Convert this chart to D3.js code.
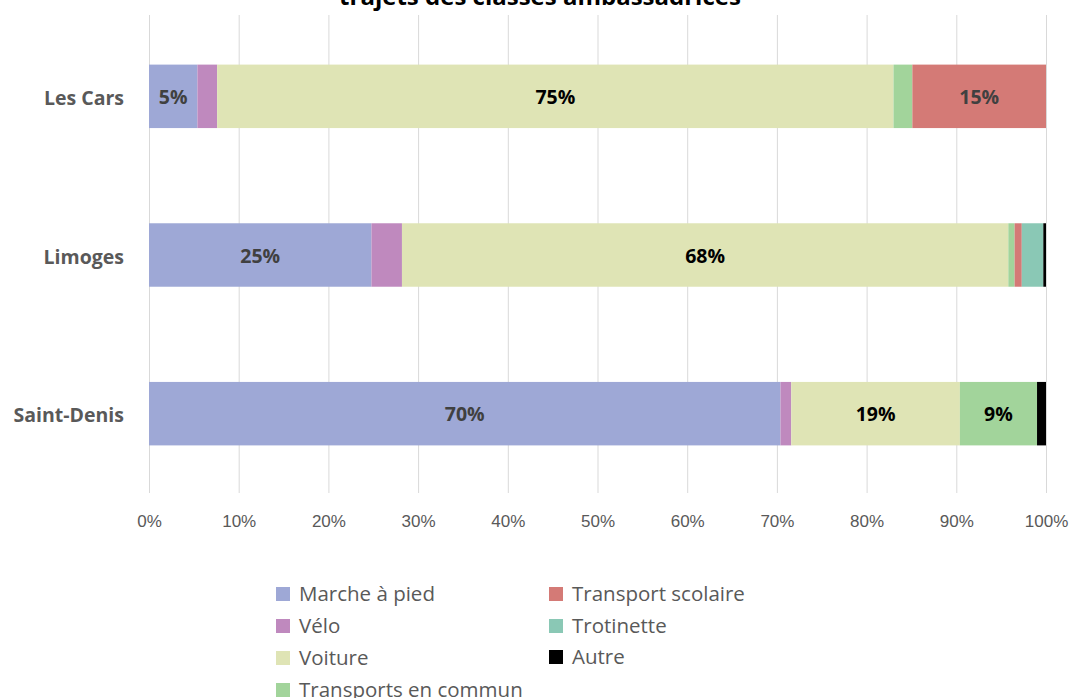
<!DOCTYPE html>
<html>
<head>
<meta charset="utf-8">
<script src="https://cdn.jsdelivr.net/npm/d3@7"></script>
<style>
  body { margin: 0; background: #fff; }
  svg { display: block; font-family: "Open Sans", "Noto Sans", sans-serif; }
</style>
</head>
<body>
<svg id="chart" width="1072" height="698"></svg>
<script>
const categories = ["Les Cars", "Limoges", "Saint-Denis"];
const modes = ["Marche à pied", "Vélo", "Voiture", "Transports en commun", "Transport scolaire", "Trotinette", "Autre"];
const colors = ["#9ea8d6", "#bf89be", "#dfe4b5", "#a2d49b", "#d47a76", "#8ac8b5", "#000000"];
const labelColors = ["#404040", "#404040", "#000000", "#000000", "#404040", "#404040", "#ffffff"];

// share (%) of each mode per city, in the order of `modes`
const lesCars    = [5.4, 2.2, 75.4, 2.1, 14.9, 0, 0];
const limoges    = [24.8, 3.4, 67.6, 0.7, 0.8, 2.4, 0.3];
const saintDenis = [70.4, 1.2, 18.8, 8.6, 0, 0, 1.0];
const values = [lesCars, limoges, saintDenis];

const xTicks = [0, 10, 20, 30, 40, 50, 60, 70, 80, 90, 100];
const titleText = "trajets des classes ambassadrices";

const rows = categories.map((c, i) => {
    const row = { city: c };
    modes.forEach((m, j) => row[m] = values[i][j]);
    return row;
});

const svg = d3.select("#chart");
const margin = { left: 149, right: 26, top: 15, bottom: 205 };
const width = +svg.attr("width"), height = +svg.attr("height");

const x = d3.scaleLinear().domain([0, 100]).range([margin.left, width - margin.right]);
const y = d3.scaleBand().domain(categories).range([margin.top + 2, height - margin.bottom]).paddingInner(0.6).paddingOuter(0.3);
const color = d3.scaleOrdinal().domain(modes).range(colors);

// vertical gridlines
svg.append("g")
    .selectAll("line")
    .data(xTicks)
    .join("line")
    .attr("x1", d => x(d) + 0.5).attr("x2", d => x(d) + 0.5)
    .attr("y1", margin.top).attr("y2", height - margin.bottom)
    .attr("stroke", "#d9d9d9").attr("stroke-width", 1);

// x axis labels
const xAxis = svg.append("g")
    .attr("transform", `translate(0,${height - margin.bottom})`)
    .call(d3.axisBottom(x).tickValues(xTicks).tickFormat(d => d + "%").tickSize(0).tickPadding(22));
xAxis.select(".domain").remove();
xAxis.selectAll("text").attr("fill", "#595959").attr("font-size", 17);

// city labels
svg.append("g")
    .selectAll("text")
    .data(categories)
    .join("text")
    .attr("x", 124)
    .attr("y", d => y(d) + y.bandwidth() / 2 + 2)
    .attr("dy", "0.35em")
    .attr("text-anchor", "end")
    .attr("font-weight", "bold")
    .attr("font-size", 19.5)
    .attr("fill", "#595959")
    .text(d => d);

// stacked bars
const stacked = d3.stack().keys(modes)(rows);
const layers = svg.append("g")
    .selectAll("g")
    .data(stacked)
    .join("g")
    .attr("fill", d => color(d.key));

layers.selectAll("rect")
    .data(d => d)
    .join("rect")
    .attr("x", d => x(d[0]))
    .attr("y", d => y(d.data.city))
    .attr("width", d => x(d[1]) - x(d[0]))
    .attr("height", y.bandwidth());

// value labels on the wider segments
stacked.forEach((layer, j) => {
    svg.append("g")
        .selectAll("text")
        .data(layer.filter(d => d[1] - d[0] >= 5))
        .join("text")
        .attr("x", d => (x(d[0]) + x(d[1])) / 2)
        .attr("y", d => y(d.data.city) + y.bandwidth() / 2 + 1)
        .attr("dy", "0.35em")
        .attr("text-anchor", "middle")
        .attr("font-weight", "bold")
        .attr("font-size", 19.5)
        .attr("fill", labelColors[j])
        .text(d => Math.round(d[1] - d[0]) + "%");
});

// title, partly above the top edge
svg.append("text")
    .attr("x", 540)
    .attr("y", 5)
    .attr("text-anchor", "middle")
    .attr("font-weight", "bold")
    .attr("font-size", 24)
    .attr("fill", "#000")
    .text(titleText);

// legend in two columns
const legendPos = [
    [276, 594], [276, 626], [276, 658], [276, 690],
    [549, 594], [549, 626], [549, 657]
];
const legend = svg.append("g")
    .selectAll("g")
    .data(modes)
    .join("g")
    .attr("transform", (d, i) => `translate(${legendPos[i][0]},${legendPos[i][1]})`);
legend.append("rect")
    .attr("x", 0).attr("y", -7).attr("width", 14).attr("height", 14)
    .attr("fill", d => color(d));
legend.append("text")
    .attr("x", 23)
    .attr("dy", "0.35em")
    .attr("font-size", 20.5)
    .attr("fill", "#595959")
    .text(d => d);
</script>
</body>
</html>
